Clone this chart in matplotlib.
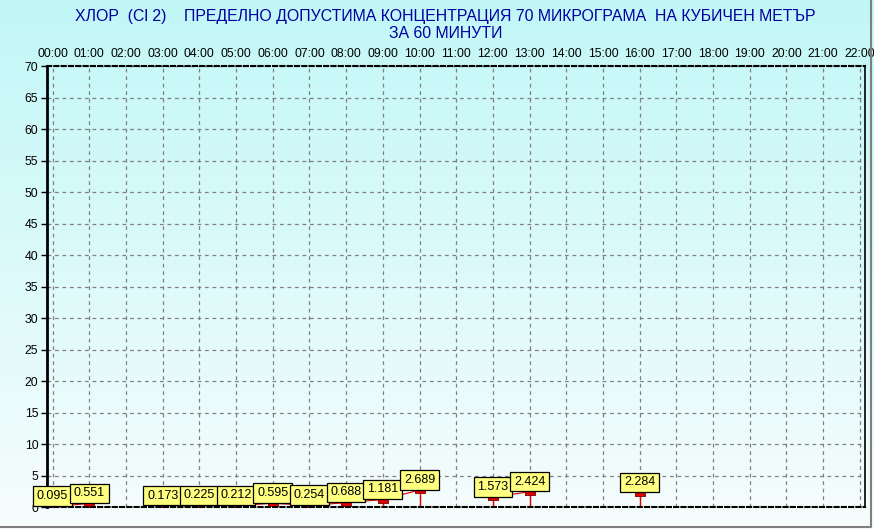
import matplotlib.pyplot as plt
import numpy as np
from matplotlib.lines import Line2D

plt.rcParams['font.family'] = ['Liberation Sans', 'DejaVu Sans']

# hourly values (NaN where no measurement)
hours = list(range(0, 23))
hour_labels = [f"{h:02d}:00" for h in hours]
values = [0.095, 0.551, np.nan, 0.173, 0.225, 0.212, 0.595, 0.254, 0.688, 1.181, 2.689,
          np.nan, 1.573, 2.424, np.nan, np.nan, 2.284, np.nan, np.nan, np.nan, np.nan,
          np.nan, np.nan]
y_ticks = list(range(0, 75, 5))

title = ("ХЛОР  (Cl 2)    ПРЕДЕЛНО ДОПУСТИМА КОНЦЕНТРАЦИЯ 70 МИКРОГРАМА  НА КУБИЧЕН МЕТЪР\n"
         "ЗА 60 МИНУТИ")

fig = plt.figure(figsize=(8.74, 5.29), dpi=100)

# background gradient over the whole picture
bg = fig.add_axes([0, 0, 1, 1], zorder=-10)
grad = np.linspace(0, 1, 256)[:, None]
top = np.array([0.76, 0.97, 0.97])
bot = np.array([0.97, 0.99, 0.99])
img = top[None, None, :] * (1 - grad[:, :, None]) + bot[None, None, :] * grad[:, :, None]
bg.imshow(img, aspect='auto', extent=[0, 1, 0, 1])
bg.set_xlim(0, 1)
bg.set_ylim(0, 1)
bg.axis('off')
# grey frame on right and bottom
fig.lines.append(Line2D([0.0, 0.997, 0.997], [0.004, 0.004, 1.0], transform=fig.transFigure,
                        color='#808080', linewidth=1.5))

ax = fig.add_axes([46.7 / 874, 1 - 507 / 529, (865 - 46.7) / 874, (507 - 66) / 529])
ax.set_facecolor('none')

x = np.array(hours, dtype=float)
y = np.array(values, dtype=float)
mask = ~np.isnan(y)

# stems, connecting line, markers
ax.vlines(x[mask], 0, y[mask], color='#e00000', linewidth=1, zorder=3)
ax.plot(x, y, color='#e00000', linewidth=0.8, zorder=3)
rect = [(-5, -3), (5, -3), (5, 3), (-5, 3), (-5, -3)]
ax.plot(x[mask], y[mask], linestyle='none', marker=rect, markersize=7.5,
        markerfacecolor='#e00000', markeredgecolor='#800000', markeredgewidth=0.6, zorder=4)

for xi, yi in zip(x[mask], y[mask]):
    ax.annotate(f"{yi:.3f}", (xi, yi), xytext=(0, 3), textcoords='offset points',
                ha='center', va='bottom', fontsize=9, color='black', zorder=6,
                bbox=dict(boxstyle='square,pad=0.3', facecolor='#ffff80',
                          edgecolor='black', linewidth=0.9),
                annotation_clip=False)

ax.set_xlim(-0.16, 22.14)
ax.set_ylim(0, 70)
ax.set_xticks(hours)
ax.set_xticklabels(hour_labels)
ax.set_yticks(y_ticks)
ax.xaxis.tick_top()
ax.tick_params(axis='x', length=0, pad=4.5, labelsize=8.8)
ax.tick_params(axis='y', length=4, width=1, pad=2, labelsize=8.8)
ax.grid(True, color='#808080', linestyle=(0, (3, 3)), linewidth=0.9)
ax.set_axisbelow(True)

ax.spines['left'].set_linewidth(2)
ax.spines['right'].set_linewidth(1.2)
for s in ('top', 'bottom'):
    ax.spines[s].set_linestyle((0, (2, 1.5)))
    ax.spines[s].set_linewidth(1.5)
for s in ax.spines.values():
    s.set_zorder(5)

fig.text(0.51, 0.983, title, ha='center', va='top', fontsize=11.4,
         color='#0000a0', linespacing=1.15)

fig.savefig('out.png', dpi=100)
